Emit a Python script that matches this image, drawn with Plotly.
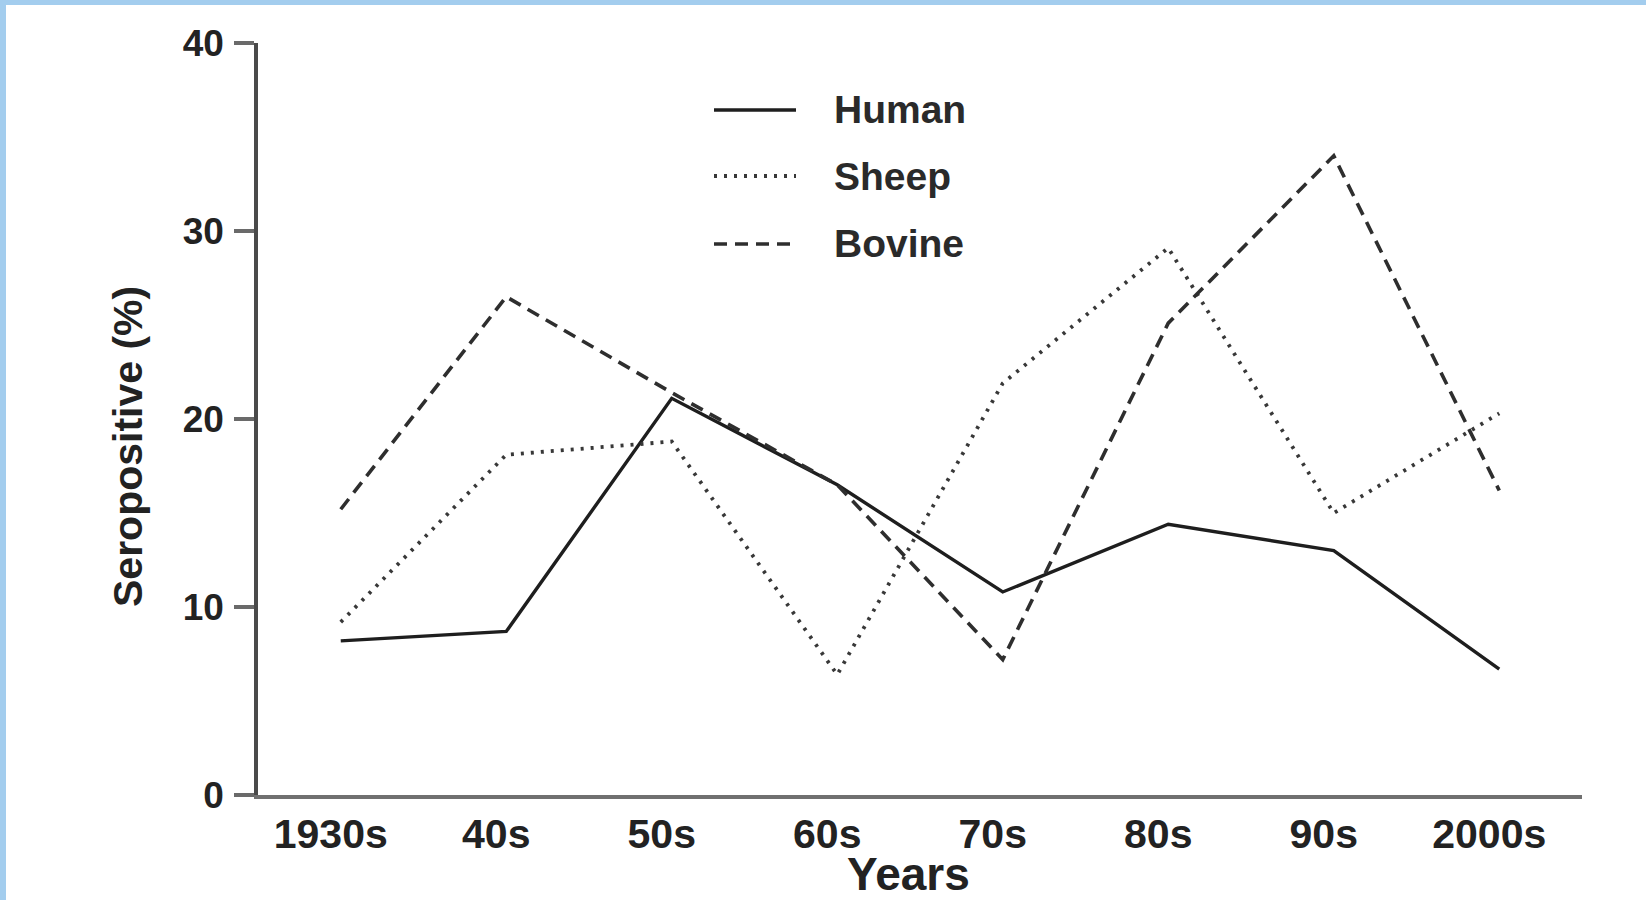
import plotly.graph_objects as go

decades = ["1930s", "40s", "50s", "60s", "70s", "80s", "90s", "2000s"]
human = [8.2, 8.7, 21.1, 16.5, 10.8, 14.4, 13.0, 6.7]
sheep = [9.2, 18.1, 18.8, 6.4, 21.9, 29.1, 15.0, 20.3]
bovine = [15.2, 26.5, 21.4, 16.5, 7.2, 25.1, 34.0, 16.2]
y_ticks = [0, 10, 20, 30, 40]

W, H = 1646, 900
L, R, T, B = 258, 64, 43, 105
PW, PH = W - L - R, H - T - B


def px(x):
    return (x - L) / PW


def py(y):
    return (H - B - y) / PH


FONT = "Liberation Sans, Arial, sans-serif"
INK = "#222222"

series = [
    ("Human", human, dict(color="#1e1e1e", width=3.4, dash="solid")),
    ("Sheep", sheep, dict(color="#383838", width=3.8, dash="3px,7px")),
    ("Bovine", bovine, dict(color="#2e2e2e", width=3.6, dash="13px,8px")),
]

fig = go.Figure()
for name, vals, line in series:
    fig.add_trace(go.Scatter(x=decades, y=vals, mode="lines", name=name,
                             line=line, showlegend=False))

shapes = []
annotations = []
# manual legend
leg_rows = [110, 176, 244]
for (name, vals, line), ry in zip(series, leg_rows):
    shapes.append(dict(type="line", xref="paper", yref="paper",
                       x0=px(714), x1=px(796), y0=py(ry), y1=py(ry),
                       line=line))
    annotations.append(dict(text="<b>" + name + "</b>", xref="paper", yref="paper",
                            x=px(832), y=py(ry), xanchor="left", yanchor="middle",
                            showarrow=False,
                            font=dict(family=FONT, size=39, color="#2a2a2a")))

# axis titles
annotations.append(dict(text="<b>Years</b>", xref="paper", yref="paper",
                        x=px(908), y=py(874), xanchor="center", yanchor="middle",
                        showarrow=False, font=dict(family=FONT, size=46, color=INK)))
annotations.append(dict(text="<b>Seropositive (%)</b>", xref="paper", yref="paper",
                        x=px(128), y=py(447), xanchor="center", yanchor="middle",
                        textangle=-90, showarrow=False,
                        font=dict(family=FONT, size=41, color=INK)))

# light blue frame edges of the picture
BLUE = "#a3cdee"
shapes.append(dict(type="rect", xref="paper", yref="paper", layer="above",
                   x0=px(0), x1=px(6), y0=py(H), y1=py(0),
                   fillcolor=BLUE, line=dict(width=0)))
shapes.append(dict(type="rect", xref="paper", yref="paper", layer="above",
                   x0=px(0), x1=px(W), y0=py(5), y1=py(0),
                   fillcolor=BLUE, line=dict(width=0)))

fig.update_layout(
    width=W, height=H,
    margin=dict(l=L, r=R, t=T, b=B, pad=0),
    paper_bgcolor="white", plot_bgcolor="white",
    showlegend=False,
    shapes=shapes, annotations=annotations,
    xaxis=dict(type="category", categoryorder="array", categoryarray=decades,
               range=[-0.5, 7.5], showgrid=False, zeroline=False,
               showline=True, linecolor="#707070", linewidth=4,
               ticks="", ticklabelstandoff=0, ticklabelshift=-10,
               tickfont=dict(family=FONT, size=41, color=INK, weight="bold")),
    yaxis=dict(range=[0, 40], tickvals=y_ticks, showgrid=False, zeroline=False,
               showline=True, linecolor="#4a4a4a", linewidth=3.5,
               ticks="outside", ticklen=20, tickwidth=4, tickcolor="#6a6a6a",
               ticklabelstandoff=3,
               tickfont=dict(family=FONT, size=37, color=INK, weight="bold")),
)

fig.write_html("out.html",
               config={"displayModeBar": False},
               post_script="document.body.style.margin='0';"
                           "document.body.style.overflow='hidden';")
